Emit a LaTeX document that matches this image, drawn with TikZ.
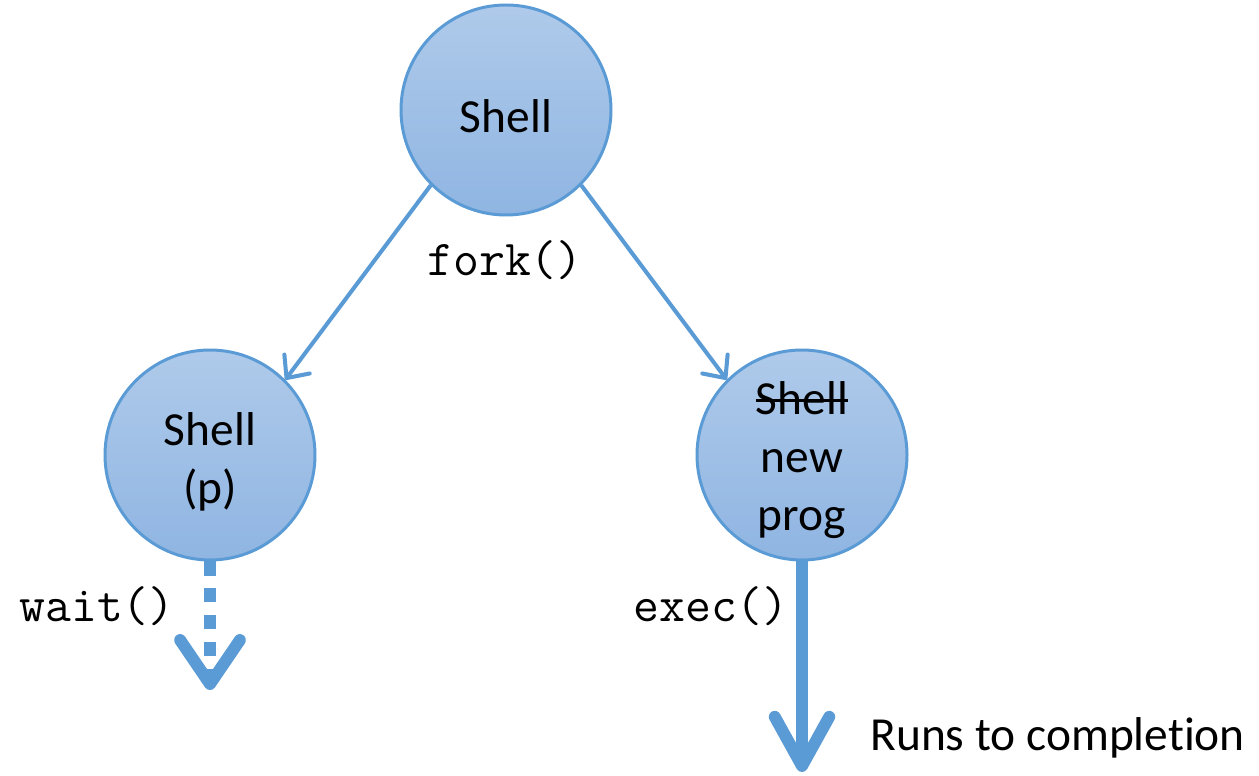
\documentclass[tikz,border=0pt]{standalone}
\usepackage{fontspec}
\setmainfont[Ligatures=NoCommon]{Carlito}
\usepackage{xcolor}
\usepackage{tikz}
\usetikzlibrary{arrows.meta}

\definecolor{procedge}{RGB}{91,155,213}
\definecolor{proctop}{RGB}{175,202,234}
\definecolor{procbot}{RGB}{143,181,226}

\newlength{\strikewd}
\newcommand{\strikeout}[1]{\settowidth{\strikewd}{#1}\rlap{#1}\rule[0.58ex]{\strikewd}{1.6pt}}
\newcommand{\tallstrut}[1]{\rule{0pt}{#1}}

\tikzset{
    proc/.style={circle, minimum size=4.2cm, inner sep=0pt, align=center,
        draw=procedge, line width=1.7pt, top color=proctop, bottom color=procbot,
        font=\fontsize{27}{33}\selectfont},
    call/.style={font=\ttfamily\fontsize{28.6}{32}\selectfont},
    forkline/.style={procedge, line width=2.3pt,
        -{Straight Barb[length=10pt, width=18pt, round]}},
}

\begin{document}
\begin{tikzpicture}
        \useasboundingbox (0,0) rectangle (25.18,15.5);

        % Draw the processes
        \node[proc] (shell) at (10.12,13.3) {\tallstrut{26pt}Shell};
        \node[proc] (child) at (4.2,6.4) {\tallstrut{26pt}Shell\\(p)};
        \node[proc] (prog)  at (16.04,6.4) {\tallstrut{25pt}\strikeout{Shell}\\new\\prog};

        % Draw the fork arrows
        \draw[forkline] (shell.225) -- (child.45);
        \draw[forkline] (shell.-45) -- (prog.135);

        % Draw the wait and exec arrows
        \coordinate (waitend) at (4.2,1.7);
        \coordinate (execend) at (16.04,0.06);
        \draw[procedge, line width=6.8pt, dash pattern=on 8pt off 7.3pt,
            -{Straight Barb[length=25pt, width=34pt, line width=6.8pt, round]}]
            (child.south) -- (waitend);
        \draw[procedge, line width=7.2pt,
            -{Straight Barb[length=28pt, width=31pt, line width=6.8pt, round]}]
            (prog.south) -- (execend);

        % Labels
        \node[call] (forklbl) at (10.1,10.3) {fork()};
        \node[call] (waitlbl) at (1.94,3.38) {wait()};
        \node[call] (execlbl) at (14.22,3.38) {exec()};
        \node[anchor=west, inner sep=0pt, font=\fontsize{27}{33}\selectfont]
            (runslbl) at (17.4,0.74) {Runs to completion};
    \end{tikzpicture}
\end{document}
